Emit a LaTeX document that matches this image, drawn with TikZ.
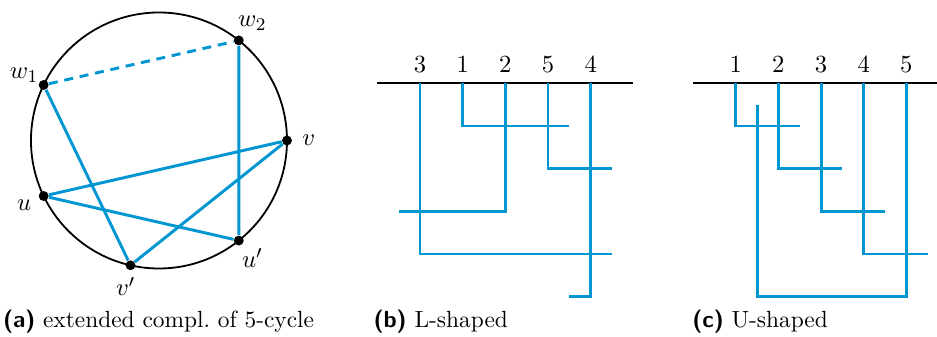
\documentclass[tikz,border=0pt]{standalone}
\usepackage{tikz}
\usetikzlibrary{positioning}
\definecolor{Cyan}{HTML}{0096D1}

\begin{document}
\begin{tikzpicture}[
  vtx/.style={circle, fill=black, inner sep=0pt, minimum size=4.4pt},
  vlab/.style={inner sep=0pt, font=\fontsize{11}{13}\selectfont},
  edg/.style={draw=Cyan, line width=1.3pt},
  wire/.style={draw=Cyan, line width=1.3pt},
  axis/.style={draw=black, line width=0.8pt},
  num/.style={inner sep=3pt, font=\fontsize{11}{13}\selectfont},
  capt/.style={anchor=base west, inner sep=0pt, font=\fontsize{10.4}{12.5}\selectfont}
]
  \useasboundingbox (0,0) rectangle (14.64,-5.25);

  % (a) circle with seven slots, slot 2 empty
  \begin{scope}[shift={(2.484,-2.195)}]
    \draw[line width=0.8pt] (0,0) circle (2);
    \foreach \nm/\k/\lab [evaluate=\k as \ang using \k*360/7] in
        {v/0/v, wb/1/w_2, wa/3/w_1, u/4/u, vp/5/v', up/6/u'} {
      \node[vtx] (\nm) at (\ang:2) {};
      \node[vlab] (\nm-l) at (\ang:2.34) {$\lab$};
    }
    \draw[edg, dash pattern=on 4pt off 3pt] (wa) -- (wb);
    \draw[edg] (wb) -- (up);
    \draw[edg] (wa) -- (vp);
    \draw[edg] (vp) -- (v);
    \draw[edg] (v) -- (u);
    \draw[edg] (u) -- (up);
  \end{scope}

  % (b) L-shaped
  \begin{scope}[shift={(6.5625,-1.302)}, x=2cm/3, y=2cm/3]
    \draw[axis] (-1,0) -- (5,0);
    \foreach \lab [count=\i from 0] in {3,1,2,5,4} {
      \coordinate (L\lab) at (\i,0);
      \node[num, above=1.8pt of L\lab] (Ln\lab) {$\lab$};
    }
    \foreach \lab/\r/\dx in {1/1/2.5, 5/2/1.5, 2/3/-2.5, 3/4/4.5, 4/5/-0.5}
      \draw[wire] (L\lab) -- ++(0,-\r) -- ++(\dx,0);
  \end{scope}

  % (c) U-shaped
  \begin{scope}[shift={(11.495,-1.302)}, x=2cm/3, y=2cm/3]
    \draw[axis] (-1,0) -- (4.72,0);
    \foreach \lab [count=\i from 0] in {1,...,5} {
      \coordinate (U\lab) at (\i,0);
      \node[num, above=1.8pt of U\lab] (Un\lab) {$\lab$};
    }
    \foreach \lab in {1,...,4}
      \draw[wire] (U\lab) -- ++(0,-\lab) -- ++(1.5,0);
    \coordinate (Uend) at (0.5,-0.5);
    \draw[wire] (U5) -- ++(0,-5) -| (Uend);
  \end{scope}

  % captions
  \node[capt] (capa) at (0.04,-5.11) {\textsf{\bfseries(a)} extended compl.\ of 5-cycle};
  \node[capt] (capb) at (5.83,-5.11) {\textsf{\bfseries(b)} L-shaped};
  \node[capt] (capc) at (10.81,-5.11) {\textsf{\bfseries(c)} U-shaped};
\end{tikzpicture}
\end{document}
